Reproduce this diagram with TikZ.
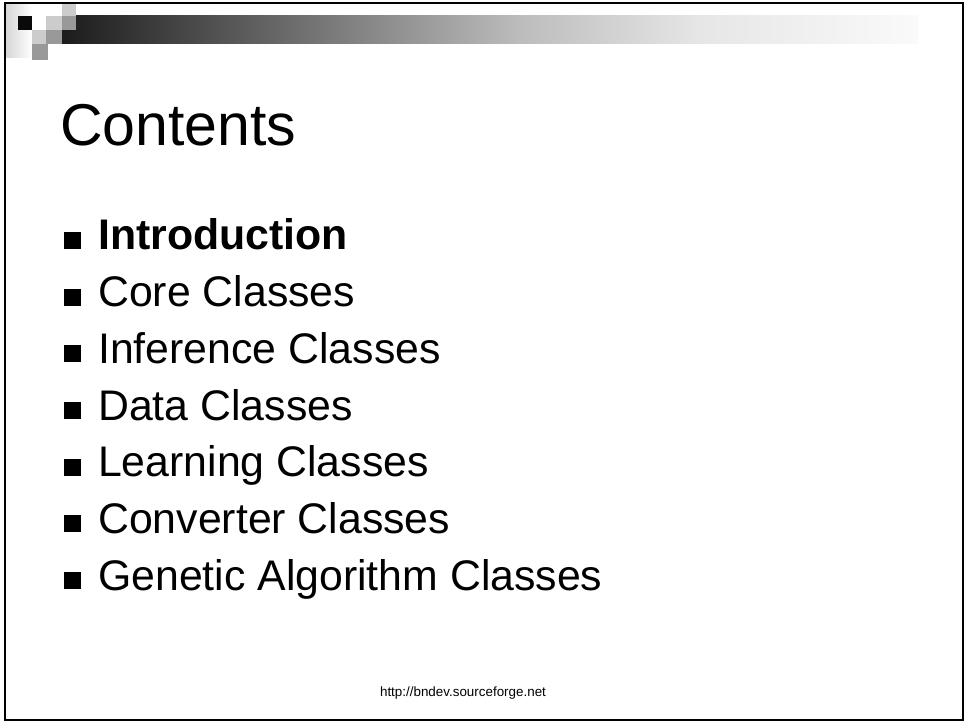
\documentclass[tikz,border=0pt]{standalone}
\usepackage{fontspec}
\setmainfont{Liberation Sans}
\usepackage{tikz, xcolor}
\usetikzlibrary{shapes,arrows}

\definecolor{lightsq}{HTML}{CCCCCC}
\definecolor{midsq}{HTML}{999999}
\definecolor{darksq}{HTML}{0A0A0A}
\definecolor{barA}{HTML}{1C1C1C}
\definecolor{barB}{HTML}{454545}
\definecolor{barC}{HTML}{BCBCBC}
\definecolor{barD}{HTML}{E6E6E6}
\definecolor{barE}{HTML}{FAFAFA}
\definecolor{stripA}{HTML}{D6D6D6}

\begin{document}
\begin{tikzpicture}[x=1pt, y=-1pt]
\tikzstyle{bulletbox}=[rectangle, fill=black, minimum size=17pt, inner sep=0pt]
\tikzstyle{itemtext}=[anchor=base west, inner sep=0pt, font=\fontsize{42.8}{50}\selectfont]
\tikzstyle{titletext}=[anchor=base west, inner sep=0pt, font=\fontsize{59}{70}\selectfont]
\tikzstyle{foottext}=[anchor=base, inner sep=0pt, font=\fontsize{13.4}{16}\selectfont]

\useasboundingbox (0,0) rectangle (967,722);

% header decoration
\shade[left color=stripA, right color=white, shading angle=90] (6,4) rectangle (32,58);
\shade[left color=barA, right color=barB] (62,16) rectangle (180,44);
\shade[left color=barB, right color=barC] (179.5,16) rectangle (520,44);
\shade[left color=barC, right color=barD] (519.5,16) rectangle (700,44);
\shade[left color=barD, right color=barE] (699.5,16) rectangle (918,44);
\fill[darksq] (18,16) rectangle (32,30);
\fill[lightsq] (62,4) rectangle (76,16);
\fill[lightsq] (46,16) rectangle (62,30);
\fill[midsq] (62,16) rectangle (76,30);
\fill[lightsq] (32,30) rectangle (46,44);
\fill[midsq] (46,30) rectangle (62,44);
\fill[midsq] (32,44) rectangle (48,60);

\draw[line width=2pt] (5,3) rectangle (963,720.3);

\node[titletext] (T0) at (60,146) {Contents};

\node[bulletbox] (B0) at (72.8,240.5) {};
\node[itemtext] (I0) at (98,250) {\bfseries Introduction};
\node[bulletbox] (B1) at (72.8,297.2) {};
\node[itemtext] (I1) at (98,306.7) {Core Classes};
\node[bulletbox] (B2) at (72.8,353.8) {};
\node[itemtext] (I2) at (98,363.3) {Inference Classes};
\node[bulletbox] (B3) at (72.8,410.5) {};
\node[itemtext] (I3) at (98,420) {Data Classes};
\node[bulletbox] (B4) at (72.8,467.2) {};
\node[itemtext] (I4) at (98,476.7) {Learning Classes};
\node[bulletbox] (B5) at (72.8,523.8) {};
\node[itemtext] (I5) at (98,533.3) {Converter Classes};
\node[bulletbox] (B6) at (72.8,580.5) {};
\node[itemtext] (I6) at (98,590) {Genetic Algorithm Classes};

\node[foottext] (F0) at (463,696.7) {http://bndev.sourceforge.net};
\end{tikzpicture}
\end{document}
